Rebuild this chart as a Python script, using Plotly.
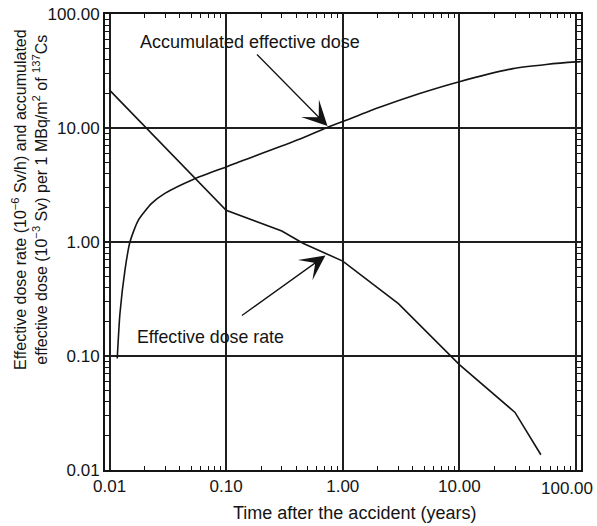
import numpy as np
import plotly.graph_objects as go

# ---- data ----
rate_time = [0.01, 0.03, 0.1, 0.3, 0.46, 1.0, 3.0, 10.0, 30.0, 50.0]
rate_value = [21.5, 6.7, 1.9, 1.25, 0.97, 0.68, 0.288, 0.084, 0.032, 0.0136]

acc_time = [0.01164, 0.01228, 0.01355, 0.01496, 0.01762, 0.02296, 0.0298, 0.0521,
            0.1, 0.119, 0.43, 0.75, 1.0, 2.07, 4.57, 10.0, 28.8, 55.6, 100.0, 110.0]
acc_value = [0.095, 0.236, 0.565, 1.0, 1.55, 2.18, 2.67, 3.54,
             4.56, 4.89, 8.0, 10.2, 11.4, 15.2, 20.1, 25.5, 33.2, 36.1, 38.0, 38.2]

tick_vals = [0.01, 0.1, 1, 10, 100]
tick_text = ["0.01", "0.10", "1.00", "10.00", "100.00"]

minor_vals = [m * 10.0 ** e for e in range(-2, 2) for m in range(2, 10)]

FONT = "Liberation Sans, Arial, Helvetica, sans-serif"
INK = "#141414"

fig = go.Figure()
fig.add_trace(go.Scatter(x=rate_time, y=rate_value, mode="lines",
                         line=dict(color=INK, width=1.6), showlegend=False))
fig.add_trace(go.Scatter(x=acc_time, y=acc_value, mode="lines",
                         line=dict(color=INK, width=1.6, shape="spline", smoothing=0.6),
                         showlegend=False))

axis_common = dict(
    type="log",
    automargin=False,
    showgrid=True, gridcolor="#1e1e1e", gridwidth=1.5,
    showline=True, linecolor=INK, linewidth=2, mirror="allticks",
    ticks="inside", ticklen=0, tickcolor=INK,
    minor=dict(tickvals=minor_vals, ticks="inside", ticklen=4, tickcolor=INK,
               tickwidth=1.2, showgrid=False),
    tickfont=dict(family=FONT, size=17, color=INK),
    zeroline=False,
)
# last x label is drawn separately (shifted left to stay inside the figure, as in the reference)
fig.update_xaxes(range=[-2.039, 2.043], tickvals=tick_vals,
                 ticktext=tick_text[:-1] + [""], **axis_common)
fig.update_yaxes(range=[-2, 2], tickvals=tick_vals, ticktext=tick_text,
                 ticklabeloverflow="allow", **axis_common)

fig.add_annotation(xref="paper", yref="paper", x=(567 - 105) / 476, y=(470 - 488) / 456,
                   text=tick_text[-1], showarrow=False,
                   font=dict(family=FONT, size=17, color=INK),
                   xanchor="center", yanchor="middle")

# arrows (tip in data coords, tail offset in px)
fig.add_annotation(x=np.log10(0.74), y=np.log10(10.4), ax=-72, ay=-73,
                   text="", showarrow=True, arrowhead=3, arrowsize=3.2,
                   arrowwidth=1.3, arrowcolor=INK)
fig.add_annotation(x=np.log10(0.71), y=np.log10(0.76), ax=-85, ay=61,
                   text="", showarrow=True, arrowhead=3, arrowsize=3.2,
                   arrowwidth=1.3, arrowcolor=INK)

fig.add_annotation(xref="paper", yref="paper", x=(250 - 105) / 476, y=(470 - 42) / 456,
                   text="Accumulated effective dose", showarrow=False,
                   font=dict(family=FONT, size=18, color=INK),
                   xanchor="center", yanchor="middle")
fig.add_annotation(xref="paper", yref="paper", x=(210 - 105) / 476, y=(470 - 336.7) / 456,
                   text="Effective dose rate", showarrow=False,
                   font=dict(family=FONT, size=17.8, color=INK),
                   xanchor="center", yanchor="middle")

# axis titles
fig.add_annotation(xref="paper", yref="paper", x=(354 - 105) / 476, y=(470 - 513) / 456,
                   text="Time after the accident (years)", showarrow=False,
                   font=dict(family=FONT, size=18, color=INK),
                   xanchor="center", yanchor="middle")
fig.add_annotation(xref="paper", yref="paper", x=(29 - 105) / 476, y=(470 - 200) / 456,
                   text="Effective dose rate (10<sup>−6</sup> Sv/h) and accumulated<br>"
                        "effective dose (10<sup>−3</sup> Sv) per 1 MBq/m<sup>2</sup> of <sup>137</sup>Cs",
                   showarrow=False, textangle=-90,
                   font=dict(family=FONT, size=16, color=INK),
                   xanchor="center", yanchor="middle")

fig.update_layout(template="none", width=597, height=526,
                  margin=dict(l=105, r=16, t=14, b=56, autoexpand=False),
                  paper_bgcolor="white", plot_bgcolor="white")

fig.write_html("out.html", config={"displayModeBar": False},
               post_script="document.body.style.margin='0';document.body.style.overflow='hidden';")
